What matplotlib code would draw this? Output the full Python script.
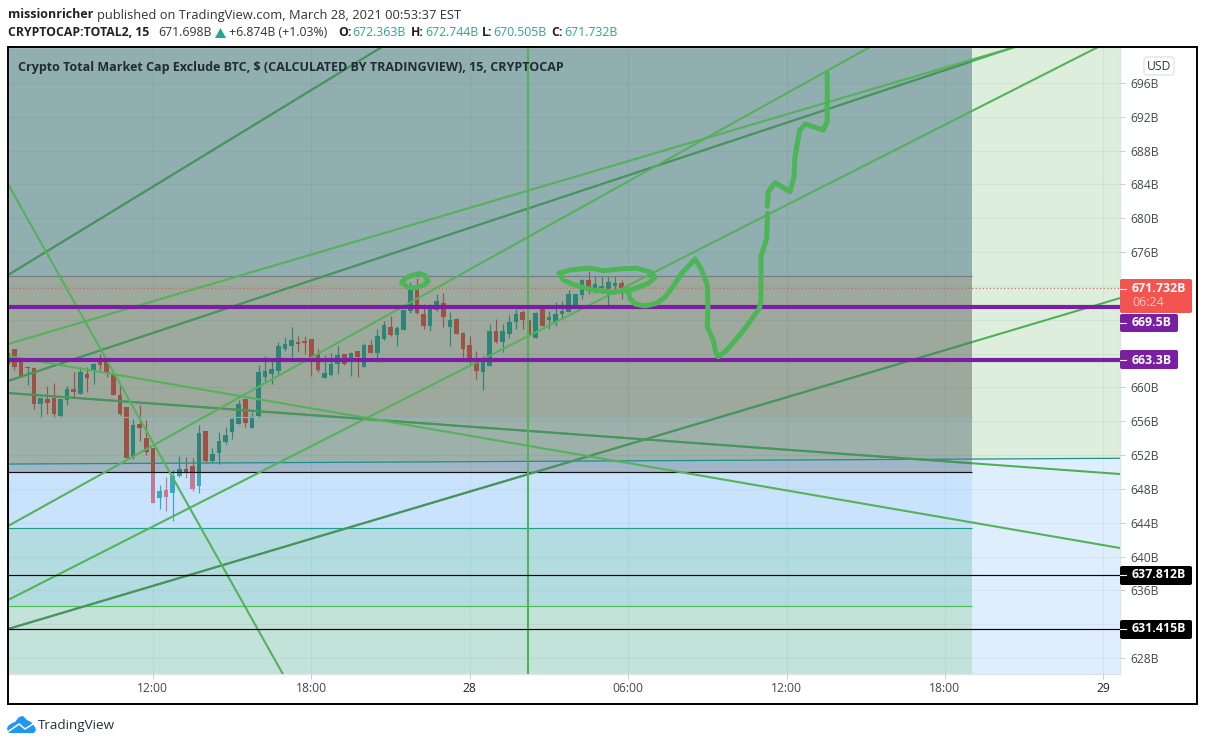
import numpy as np
import matplotlib
matplotlib.use("Agg")
import matplotlib.pyplot as plt
from matplotlib.patches import Rectangle, FancyBboxPatch, Polygon

plt.rcParams['font.family'] = ['Open Sans', 'DejaVu Sans']

# ---------- data (hours since Mar 27 00:00, price in billions) ----------
first_candle_hour = 6.5
candle_step = 0.25
opens = [662.8,664.5,663.1,662.25,662.3,658.0,658.6,658.8,656.6,658.5,659.8,659.2,661.6,662.0,663.2,663.2,661.45,659.1,657.7,651.75,
         655.7,654.0,652.85,646.9,647.85,647.5,649.5,650.35,650.7,648.35,654.85,651.3,652.25,653.55,654.7,655.7,658.6,655.2,656.6,661.25,
         661.6,661.95,664.55,664.9,665.35,665.5,665.7,663.9,661.1,661.45,662.8,663.95,663.05,664.25,662.4,665.0,664.05,665.7,667.1,666.2,
         666.8,669.05,671.7,668.7,667.25,669.15,670.0,667.15,668.1,666.45,665.0,663.05,661.8,662.55,666.65,665.35,666.3,667.75,668.9,668.0,
         665.85,669.3,668.0,667.75,668.7,668.9,669.5,670.9,672.7,671.65,671.75,671.65,672.0,672.363]
highs = [664.1,664.5,663.1,662.5,662.4,658.75,660.15,660.5,658.6,660.15,661.8,662.4,662.4,662.9,663.95,663.2,661.45,660.3,657.7,656.25,
         657.9,656.15,652.85,648.45,649.4,650.2,651.9,651.75,651.65,655.55,654.85,652.85,654.7,655.3,656.4,658.5,658.6,657.1,662.65,663.7,
         663.25,665.35,665.95,667.15,666.1,666.1,665.7,664.55,663.85,664.05,665.0,663.95,664.2,664.25,665.2,665.6,666.9,667.85,668.45,667.25,
         669.15,672.45,672.95,669.85,669.85,671.05,671.2,668.9,668.2,666.55,666.1,664.3,663.7,667.5,668.1,667.5,668.55,669.3,669.15,668.0,
         668.9,669.3,669.05,670.1,670.2,671.5,671.05,672.8,673.75,673.2,673.2,673.2,673.2,672.744]
lows = [662.5,662.1,661.35,660.3,657.4,656.4,656.85,656.4,656.4,657.9,658.8,659.2,659.45,660.4,662.05,661.2,659.1,656.75,651.65,651.55,
        653.65,652.0,646.35,645.6,645.4,644.2,649.4,649.3,647.75,647.5,651.05,651.2,650.95,653.3,653.9,655.7,655.3,655.2,656.4,660.75,
        660.4,661.45,664.3,663.6,664.2,663.95,661.3,661.8,661.1,661.35,661.6,662.7,661.35,661.2,662.4,664.05,663.0,665.6,666.1,664.9,
        666.8,668.8,668.7,666.9,666.65,669.05,667.1,664.9,666.3,663.6,662.65,661.0,659.7,662.55,665.25,664.2,665.9,666.9,666.9,666.1,
        665.85,667.25,666.9,667.25,668.15,668.9,669.5,670.45,671.1,671.2,671.2,669.75,671.5,670.505]
closes = [664.1,662.4,661.35,662.3,658.0,658.75,658.15,656.8,658.6,659.8,659.45,661.8,661.1,662.8,662.65,661.75,659.1,656.8,651.65,655.55,
          655.2,652.4,646.35,647.75,647.0,649.5,650.35,650.0,648.0,654.6,651.3,652.1,653.65,654.35,656.25,658.0,655.8,656.5,661.8,661.95,
          662.2,664.9,665.15,665.6,665.15,665.25,663.6,662.05,661.7,662.8,663.85,662.8,664.05,663.55,665.0,664.05,666.1,667.4,666.2,667.0,
          669.15,671.75,668.8,667.25,669.3,670.2,668.35,668.0,666.3,664.55,663.25,661.95,663.25,666.65,665.35,666.65,667.75,668.7,668.0,666.1,
          668.8,667.25,668.3,668.7,669.05,671.05,671.05,672.7,671.75,672.25,672.0,672.45,672.35,671.732]

h_left, h_box, h_right = 6.51, 43.02, 48.63
p_top, p_bottom = 700.26, 626.11

# trend lines: (hour0, price0, hour1, price1)
dark_lines = [(6.51,673.29,20.67,700.26), (6.51,660.76,44.65,700.26),
              (6.51,631.43,48.63,670.57), (6.51,659.34,48.63,649.76)]
light_lines = [(6.51,665.13,44.65,700.26), (6.51,643.61,39.16,700.26),
               (6.51,634.86,47.8,700.26), (6.51,684.06,16.92,626.11),
               (6.51,663.72,48.63,641.01)]
channel_line = (6.51, 650.94, 48.63, 651.62)
vertical_hour = 26.2

level_blue, level_box_top, level_black, level_teal, level_green = 656.5, 673.2, 650.0, 643.4, 634.15
purple_levels = [669.5, 663.3]
black_levels = [637.812, 631.415]
last_price = 671.732

# freehand drawing
loop_small_h = [21.43,21.51,21.73,22.08,22.30,22.42,22.27,21.96,21.66,21.43]
loop_small_p = [672.38,672.76,673.18,673.47,673.24,672.58,672.11,671.8,671.82,672.38]
loop_big_h = [27.39,27.8,28.55,29.06,29.81,30.32,30.83,31.02,30.76,30.19,29.44,28.68,27.98,27.54,27.39]
loop_big_p = [673.5,673.89,674.12,673.8,674.04,674.09,673.68,673.02,672.31,671.6,671.25,671.52,672.11,672.7,673.5]
path1_h = [29.97,30.07,30.26,30.64,31.08,31.39,31.65,32.03,32.54,32.78,33.0,33.02,33.0,33.22,33.31,33.41,33.67,34.23,34.61,34.97,35.03,35.03,35.25,35.28]
path1_p = [671.72,670.54,669.86,669.63,669.95,670.66,671.72,673.5,675.19,673.89,672.11,669.55,667.11,665.61,664.22,663.63,664.22,666.2,667.77,669.36,670.34,675.46,677.63,680.59]
path2_h = [35.27,35.31,35.56,36.13,36.28,36.32,36.5,36.72,37.39,37.54,37.54]
path2_p = [681.45,683.15,684.21,683.15,684.92,687.28,690.44,691.15,690.44,691.42,697.15]

price_ticks = list(range(628, 700, 4))
hidden_price_labels = [632, 664, 668, 672]  # sit behind the price tags
price_labels = ["" if t in hidden_price_labels else f"{t}B" for t in price_ticks]
time_ticks = [12, 18, 24, 30, 36, 42, 48]
time_labels = ["12:00", "18:00", "28", "06:00", "12:00", "18:00", "29"]

GREEN = "#55B25A"; DARK = "#4A9262"

# ---------- figure ----------
W, H = 1205, 745
fig = plt.figure(figsize=(W/100, H/100), dpi=100, facecolor="white")
ax = fig.add_axes([8/W, 1-674/H, 1112/W, 627/H])
ax.set_xlim(h_left, h_right); ax.set_ylim(p_bottom, p_top)

def chan(h):
    h0, p0, h1, p1 = channel_line
    return p0 + (p1-p0)*(np.asarray(h)-h0)/(h1-h0)

def zone(h0, h1, p0, p1, c):
    ax.fill_between([h0, h1], p0, p1, color=c, lw=0, zorder=1)

zone(h_left, h_box, level_box_top, p_top, "#91AEB1")
zone(h_left, h_box, level_blue, level_box_top, "#9EA99D")
zone(h_left, h_box, level_black, level_blue, "#9DB1AA")
ax.fill_between([h_left, h_box], level_black, chan([h_left, h_box]), color="#A0B5C8", lw=0, zorder=1)
zone(h_left, h_box, level_teal, level_black, "#C8E3FB")
zone(h_left, h_box, level_green, level_teal, "#B3DCE1")
zone(h_left, h_box, p_bottom, level_green, "#C3E2D9")
zone(h_box, h_right, level_black, p_top, "#DDEEDC")
ax.fill_between([h_box, h_right], level_black, chan([h_box, h_right]), color="#DFEEFC", lw=0, zorder=1)
zone(h_box, h_right, p_bottom, level_black, "#DFEEFC")

ax.set_yticks(price_ticks, price_labels)
ax.set_xticks(time_ticks, time_labels)
ax.yaxis.tick_right()
ax.grid(True, color="black", alpha=0.04, lw=0.9, zorder=2)
ax.set_axisbelow(False)
for g in ax.get_xgridlines()+ax.get_ygridlines():
    g.set_zorder(2)
ax.tick_params(axis="y", length=3.6, width=0.72, color="#C8CCD4", labelcolor="#43474F", labelsize=8.7, pad=4.2)
ax.tick_params(axis="x", length=3.6, width=0.72, color="#C8CCD4", labelcolor="#43474F", labelsize=8.7, pad=2.5)
for lab, txt in zip(ax.get_xticklabels(), time_labels):
    if len(txt) == 2:
        lab.set_color("#222222")
for s in ax.spines.values():
    s.set_color("#E0E3EB"); s.set_linewidth(1.0)

# candles, coloured per backdrop
o, hi, lo, c = map(np.array, (opens, highs, lows, closes))
t = first_candle_hour + candle_step*np.arange(len(o))
up = c >= o
bands = [((level_black, p_top), "#2C8577", "#9C5346"), ((p_bottom, level_black), "#3AA9BB", "#C47A92")]
for (p0, p1), cu, cd in bands:
    clip = Rectangle((h_left, p0), h_right-h_left, p1-p0, transform=ax.transData)
    cols = np.where(up, cu, cd)
    w = ax.vlines(t, lo, hi, colors=list(cols), lw=0.85, zorder=3)
    w.set_clip_path(clip)
    body = ax.bar(t, np.maximum(np.abs(c-o), 0.12), bottom=np.minimum(o, c), width=0.175, color=list(cols), lw=0, zorder=3.1)
    for b in body:
        b.set_clip_path(clip)

# box boundary lines
ax.hlines(level_box_top, h_left, h_box, color="#787B86", lw=0.85, zorder=4)
ax.hlines(level_blue, h_left, h_box, color="#64B5F6", lw=0.85, zorder=4)
ax.hlines(level_black, h_left, h_box, color="#111111", lw=0.85, zorder=4)
ax.hlines(level_teal, h_left, h_box, color="#1FA08F", lw=0.85, zorder=4)
ax.hlines(level_green, h_left, h_box, color="#4CBF50", lw=0.85, zorder=4)
ax.plot(channel_line[0::2], channel_line[1::2], color="#1E8F8F", lw=0.9, zorder=4)
ax.hlines(last_price, h_left, h_right, color="#CF6256", lw=0.8, ls=(0, (1, 2.2)), zorder=4)

# trend lines
box_clip = Rectangle((h_left, p_bottom), h_box-h_left, p_top-p_bottom, transform=ax.transData)
for l in dark_lines:
    ax.plot(l[0::2], l[1::2], color="#4CAF50", lw=1.45, zorder=5)
    d, = ax.plot(l[0::2], l[1::2], color=DARK, lw=1.5, zorder=5.1)
    d.set_clip_path(box_clip)
for l in light_lines:
    ax.plot(l[0::2], l[1::2], color=GREEN, lw=1.5, zorder=5.2)
ax.vlines(vertical_hour, p_bottom, p_top, color=GREEN, lw=1.5, zorder=5.2)

# full width levels
ax.hlines(black_levels, h_left, h_right, color="black", lw=0.85, zorder=6)
ax.hlines(purple_levels, h_left, h_right, color="#7B1FA2", lw=3.0, zorder=6)

# freehand
for hs, ps in [(loop_small_h, loop_small_p), (loop_big_h, loop_big_p), (path1_h, path1_p), (path2_h, path2_p)]:
    ax.plot(hs, ps, color="#4CB556", lw=3.6, solid_capstyle="round", solid_joinstyle="round", zorder=7)

ax.text(0.0088, 0.9675, "Crypto Total Market Cap Exclude BTC, $ (CALCULATED BY TRADINGVIEW), 15, CRYPTOCAP",
        transform=ax.transAxes, fontsize=8.97, color="#1F2D33", va="center", ha="left", fontweight="bold", zorder=9)

# ---------- pixel overlay: frame, tags, header ----------
fur = fig.add_axes([0, 0, 1, 1], zorder=10)
fur.set_xlim(0, W); fur.set_ylim(H, 0); fur.axis("off"); fur.patch.set_alpha(0)
fur.add_patch(Rectangle((8, 47), 1189, 657, fill=False, ec="black", lw=1.4))

def tag(x1, y0, y1, color, tick_y):
    fur.add_patch(FancyBboxPatch((1120, y0), x1-1120, y1-y0, boxstyle="round,pad=0,rounding_size=2",
                                 fc=color, ec="none", zorder=2))
    fur.plot([1120, 1126], [tick_y, tick_y], color="white", lw=0.8, zorder=3)

tag(1192, 279, 313, "#F25450", 289)
tag(1178, 314, 332, "#7B1FA2", 322.5)
tag(1178, 350, 369, "#7B1FA2", 359.5)
tag(1192, 566, 585, "black", 575)
tag(1192, 620, 639, "black", 629)
kw = dict(color="white", fontsize=8.9, va="center", ha="left", fontweight="bold", zorder=4)
fur.text(1132, 289, f"{last_price}B", **kw)
fur.text(1132, 303, "06:24", color="#FFC9C6", fontsize=8.9, va="center", ha="left", zorder=4)
fur.text(1132, 322.5, f"{purple_levels[0]}B", **kw)
fur.text(1132, 360, f"{purple_levels[1]}B", **kw)
fur.text(1132, 575, f"{black_levels[0]}B", **kw)
fur.text(1132, 629, f"{black_levels[1]}B", **kw)

fur.add_patch(FancyBboxPatch((1144, 57), 30, 18, boxstyle="round,pad=0,rounding_size=3", fc="white", ec="#E0E3EB", lw=1))
fur.text(1159, 66, "USD", fontsize=8.7, color="#333740", ha="center", va="center")

fur.text(8, 15, "missionricher", fontsize=9.0, fontweight="bold", color="#222", va="center")
fur.text(97, 15, "published on TradingView.com, March 28, 2021 00:53:37 EST", fontsize=9.25, color="#333", va="center")
fur.text(8, 33, "CRYPTOCAP:TOTAL2, 15", fontsize=8.8, fontweight="bold", color="#222", va="center")
fur.text(158, 33, "671.698B", fontsize=8.8, color="#333", va="center")
fur.add_patch(Polygon([(215, 38), (226, 38), (220.5, 28)], fc="#26A69A", ec="none"))
fur.text(229, 33, "+6.874B (+1.03%)", fontsize=8.8, color="#333", va="center")
for key, val, kx, vx in [("O:", "672.363B", 338, 352), ("H:", "672.744B", 411, 425),
                         ("L:", "670.505B", 482, 493), ("C:", "671.732B", 551, 564)]:
    fur.text(kx, 33, key, fontsize=8.8, fontweight="bold", color="#222", va="center")
    fur.text(vx, 33, val, fontsize=8.8, color="#26A69A", va="center")

fur.add_patch(Polygon([(7,729),(8,726),(12,723),(15,722),(19,717),(23,716),(27,720),(31,722),(35,727),(36,730),(34,733),(9,733)],
                      fc="#2196F3", ec="none"))
fur.plot([9, 19, 25, 33], [731, 724, 729, 724], color="white", lw=1.1)
fur.text(38, 725, "TradingView", fontsize=9.7, color="#2A2E39", va="center")

fig.savefig("out.png", dpi=100)
